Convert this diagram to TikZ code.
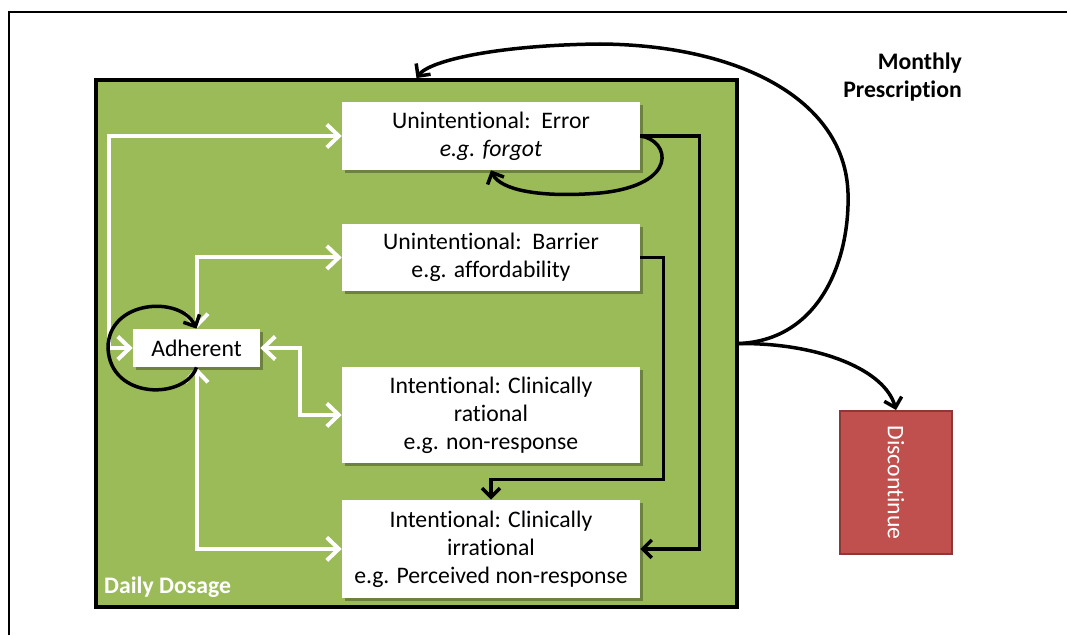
\documentclass[tikz,border=0pt]{standalone}
\usepackage{fontspec}
\setmainfont{Carlito}[Ligatures=NoCommon]
\usepackage{graphicx}
\usetikzlibrary{arrows.meta,shadows}
\definecolor{dosegreen}{HTML}{9BBB59}
\definecolor{stopred}{HTML}{C0504D}
\definecolor{stopedge}{HTML}{8C3836}
\begin{document}
\begin{tikzpicture}[x=0.02cm, y=-0.02cm, node distance=2.5cm,
	font=\fontsize{13.5}{16}\selectfont,
	box/.style={fill=white, align=center, minimum width=5.96cm, inner sep=0pt,
		drop shadow={shadow xshift=0.6mm, shadow yshift=-0.6mm, opacity=0.3, fill=black}},
	wline/.style={white, line width=0.8mm,
		{Straight Barb[length=2.4mm,width=4.6mm]}-{Straight Barb[length=2.4mm,width=4.6mm]}},
	bline/.style={black, line width=0.7mm, -{Straight Barb[length=1.8mm,width=3.6mm]}}]
	\useasboundingbox (0,0) rectangle (1067,635);
	\draw[line width=0.45mm] (9,635) -- (9,12) -- (1067,12);
	\node (daily) [draw, line width=0.8mm, fill=dosegreen, minimum width=12.82cm,
		minimum height=10.54cm, inner sep=0pt] at (416.5,343.5) {};
	\node (dd) [anchor=west, text=white, font=\bfseries\fontsize{13.5}{16}\selectfont] at (98,587) {Daily Dosage};
	\node (mp) [anchor=east, align=right, font=\bfseries\fontsize{13.5}{16}\selectfont] at (968,77) {Monthly\\Prescription};
	\node (err) [box, minimum height=1.36cm] at (491,136) {Unintentional:~~Error\\\textit{e.g. forgot}};
	\node (bar) [box, minimum height=1.34cm, below of=err, node distance=2.43cm] {Unintentional:~~Barrier\\e.g. affordability};
	\node (rat) [box, minimum height=1.92cm, below of=bar, node distance=3.15cm] {Intentional: Clinically\\rational\\e.g. non-response};
	\node (irr) [box, minimum height=1.96cm, below of=rat, node distance=2.68cm] {Intentional: Clinically\\irrational\\e.g. Perceived non-response};
	\node (adh) [box, minimum width=2.54cm, minimum height=0.76cm] at (196.5,348) {Adherent};
	\node (disc) [draw=stopedge, fill=stopred, line width=0.4mm, text=white,
		minimum width=2.24cm, minimum height=2.86cm] at (896,482.5) {\rotatebox{-90}{Discontinue}};
	% white two-way links
	\draw[wline] (err.west) -| ([xshift=-0.48cm]adh.west) -- (adh.west);
	\draw[wline] (bar.west) -| (adh.north);
	\draw[wline] (adh.east) -| ([xshift=-0.84cm]rat.west) -- (rat.west);
	\draw[wline] (adh.south) |- (irr.west);
	% black links
	\draw[bline] (err.east) -- ++(59,0) |- (irr.east);
	\draw[bline] (bar.east) -- ++(23,0) |- ([yshift=0.4cm]irr.north) -- (irr.north);
	\draw[bline] (err.east) .. controls (670,140) and (680,185) .. (600,193)
		.. controls (540,198) and (500,190) .. (err.south);
	\draw[bline] (adh.south) .. controls (185,400) and (110,400) .. (108,348)
		.. controls (108,300) and (180,295) .. (adh.north);
	\draw[bline] (daily.east) .. controls (820,340) and (850,260) .. (848,193)
		.. controls (845,100) and (740,45) .. (600,44)
		.. controls (500,45) and (430,60) .. (daily.north);
	\draw[bline] (daily.east) .. controls (820,343) and (885,370) .. (disc.north);
\end{tikzpicture}
\end{document}
